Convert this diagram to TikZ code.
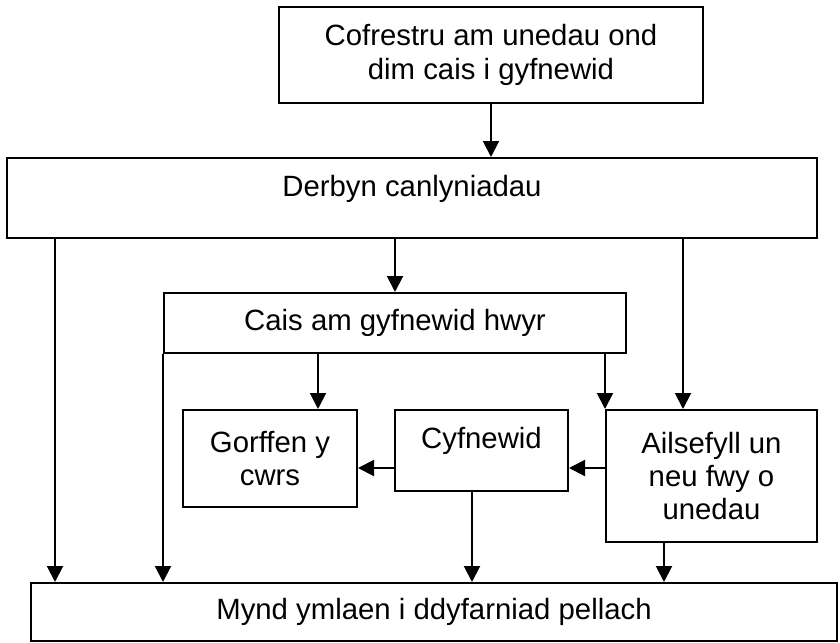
\documentclass[tikz,border=0pt]{standalone}
\usepackage{fontspec}
\setmainfont{Liberation Sans}
\usetikzlibrary{shapes,arrows.meta,positioning}

\begin{document}
\begin{tikzpicture}
	[x=0.75pt, y=-0.75pt,
		stepbox/.style={rectangle, draw=black, line width=1.5pt, align=center, inner sep=0pt, font=\fontsize{22}{25}\selectfont},
		flow/.style={-{Triangle[length=12pt,width=12pt]}, line width=1.5pt},
	]
	\useasboundingbox (0,0) rectangle (840,643);

	\node[stepbox, minimum width=318pt, minimum height=72pt] (cofrestru) at (491,55) {Cofrestru am unedau ond\\dim cais i gyfnewid};
	\node[stepbox, minimum width=607.5pt, minimum height=60pt, text depth=17.5pt] (derbyn) at (412,198) {Derbyn canlyniadau};
	\node[stepbox, minimum width=346.5pt, minimum height=45pt] (cais) at (395,323) {Cais am gyfnewid hwyr};
	\node[stepbox, minimum width=130.5pt, minimum height=72.75pt] (gorffen) at (270,458.5) {Gorffen y\\cwrs};
	\node[stepbox, minimum width=129.75pt, minimum height=60.75pt, text depth=19.5pt] (cyfnewid) at (481.5,450.5) {Cyfnewid};
	\node[stepbox, minimum width=158.25pt, minimum height=99pt] (ailsefyll) at (711.5,476) {Ailsefyll un\\neu fwy o\\unedau};
	\node[stepbox, minimum width=604.5pt, minimum height=43.5pt] (mynd) at (434,612) {Mynd ymlaen i ddyfarniad pellach};

	\coordinate (leftcol) at (55,0);
	\coordinate (midcol) at (318,0);
	\coordinate (cyfcol) at (472,0);
	\coordinate (ailcol) at (664,0);
	\coordinate (rightcol) at (683,0);
	\coordinate (siderow) at (0,468);

	\draw[flow] (cofrestru.south) -- (derbyn.north -| cofrestru.south);
	\draw[flow] (derbyn.south -| leftcol) -- (mynd.north -| leftcol);
	\draw[flow] (derbyn.south -| cais.north) -- (cais.north);
	\draw[flow] (derbyn.south -| rightcol) -- (ailsefyll.north -| rightcol);

	\draw[flow] (cais.south west) -- (mynd.north -| cais.south west);
	\draw[flow] (cais.south -| midcol) -- (gorffen.north -| midcol);
	\draw[flow] (cais.south -| ailsefyll.north west) -- (ailsefyll.north west);

	\draw[flow] (cyfnewid.west |- siderow) -- (gorffen.east |- siderow);
	\draw[flow] (ailsefyll.west |- siderow) -- (cyfnewid.east |- siderow);

	\draw[flow] (cyfnewid.south -| cyfcol) -- (mynd.north -| cyfcol);
	\draw[flow] (ailsefyll.south -| ailcol) -- (mynd.north -| ailcol);

\end{tikzpicture}
\end{document}
